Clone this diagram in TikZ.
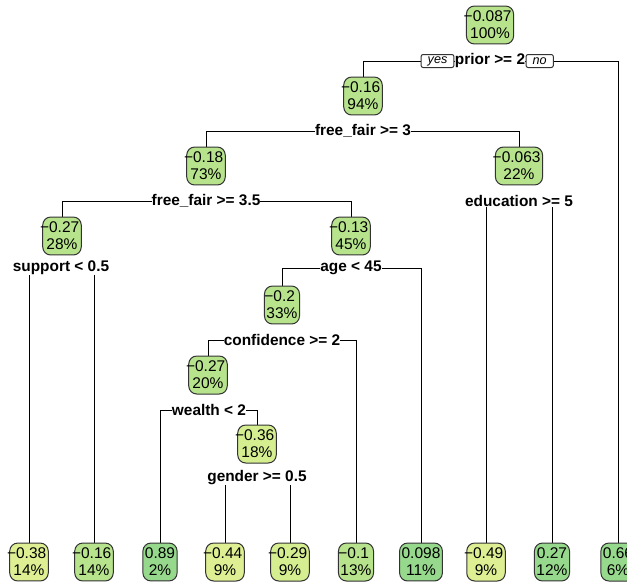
\documentclass[tikz,border=0pt]{standalone}
\usepackage{fontspec}
\setmainfont{Liberation Sans}
\usetikzlibrary{positioning, backgrounds}
\definecolor{ylw}{HTML}{DDEF92}
\definecolor{ylwb}{HTML}{D5EE90}
\definecolor{gn}{HTML}{B6E38B}
\definecolor{dk}{HTML}{97D98C}
\newcommand\mn{\makebox[0.28em][r]{−}}

\begin{document}
\begin{tikzpicture}[x=0.5pt, y=-0.5pt, draw=black!75, line width=0.5pt]
    \tikzstyle{box}=[draw=black!80, fill=gn, rounded corners=4pt, align=center, inner xsep=1pt, inner ysep=2.5pt, font=\fontsize{7.75}{8.5}\selectfont]
    \tikzstyle{split}=[fill=white, inner sep=0pt, font=\fontsize{7.7}{8}\selectfont\bfseries]
    \tikzstyle{answer}=[draw=black!80, fill=white, rounded corners=1pt, inner xsep=3.3pt, inner ysep=0pt, minimum height=6.5pt, font=\fontsize{6.3}{7}\selectfont\itshape]

    \useasboundingbox (0,0) rectangle (627,586);

    % inner nodes
    \node[box] (N-1) at (490,25) {\mn0.087\\100\%};
    \node[box] (N-2) at (363,96) {\mn0.16\\94\%};
    \node[box] (N-4) at (206,166) {\mn0.18\\73\%};
    \node[box] (N-5) at (519,166) {\mn0.063\\22\%};
    \node[box] (N-8) at (62,236) {\mn0.27\\28\%};
    \node[box] (N-9) at (351,236) {\mn0.13\\45\%};
    \node[box] (N-18) at (282,305) {\mn0.2\\33\%};
    \node[box] (N-36) at (208,375) {\mn0.27\\20\%};
    \node[box, fill=ylwb] (N-73) at (257,444) {\mn0.36\\18\%};

    % leaves
    \foreach \x/\v/\p/\c [count=\i] in {29/\mn0.38/14/ylw, 94/\mn0.16/14/gn, 160/0.89/2/dk,
            225/\mn0.44/9/ylw, 290/\mn0.29/9/ylwb, 356/\mn0.1/13/gn, 421/0.098/11/dk,
            486/\mn0.49/9/ylw, 552/0.27/12/dk, 618/0.66/6/dk}
        \node[box, fill=\c] (L-\i) at (\x,562) {\v\\\p\%};

    % splits
    \node[split] (S-1) at (490,61) {prior >= 2};
    \node[split] (S-2) at (363,131) {free\_fair >= 3};
    \node[split] (S-4) at (206,201) {free\_fair >= 3.5};
    \node[split] (S-5) at (519,201) {education >= 5};
    \node[split] (S-8) at (61,268) {support < 0.5};
    \node[split] (S-9) at (351,268) {age < 45};
    \node[split] (S-18) at (282,340) {confidence >= 2};
    \node[split] (S-36) at (209,410) {wealth < 2};
    \node[split] (S-73) at (257,478) {gender >= 0.5};

    \node[answer, left=0pt of S-1] (yes) {yes};
    \node[answer, right=0pt of S-1] (no) {no};

    \begin{scope}[on background layer]
        \draw (N-2) |- (S-1.center) -| (L-10);
        \draw (N-4) |- (S-2.center) -| (N-5);
        \draw (N-8) |- (S-4.center) -| (N-9);
        \draw (L-1) |- (S-8.center) -| (L-2);
        \draw (N-18) |- (S-9.center) -| (L-7);
        \draw (N-36) |- (S-18.center) -| (L-6);
        \draw (L-3) |- (S-36.center) -| (N-73);
        \draw (L-4) |- (S-73.center) -| (L-5);
        \draw (L-8) |- (S-5.center) -| (L-9);
    \end{scope}
\end{tikzpicture}
\end{document}
